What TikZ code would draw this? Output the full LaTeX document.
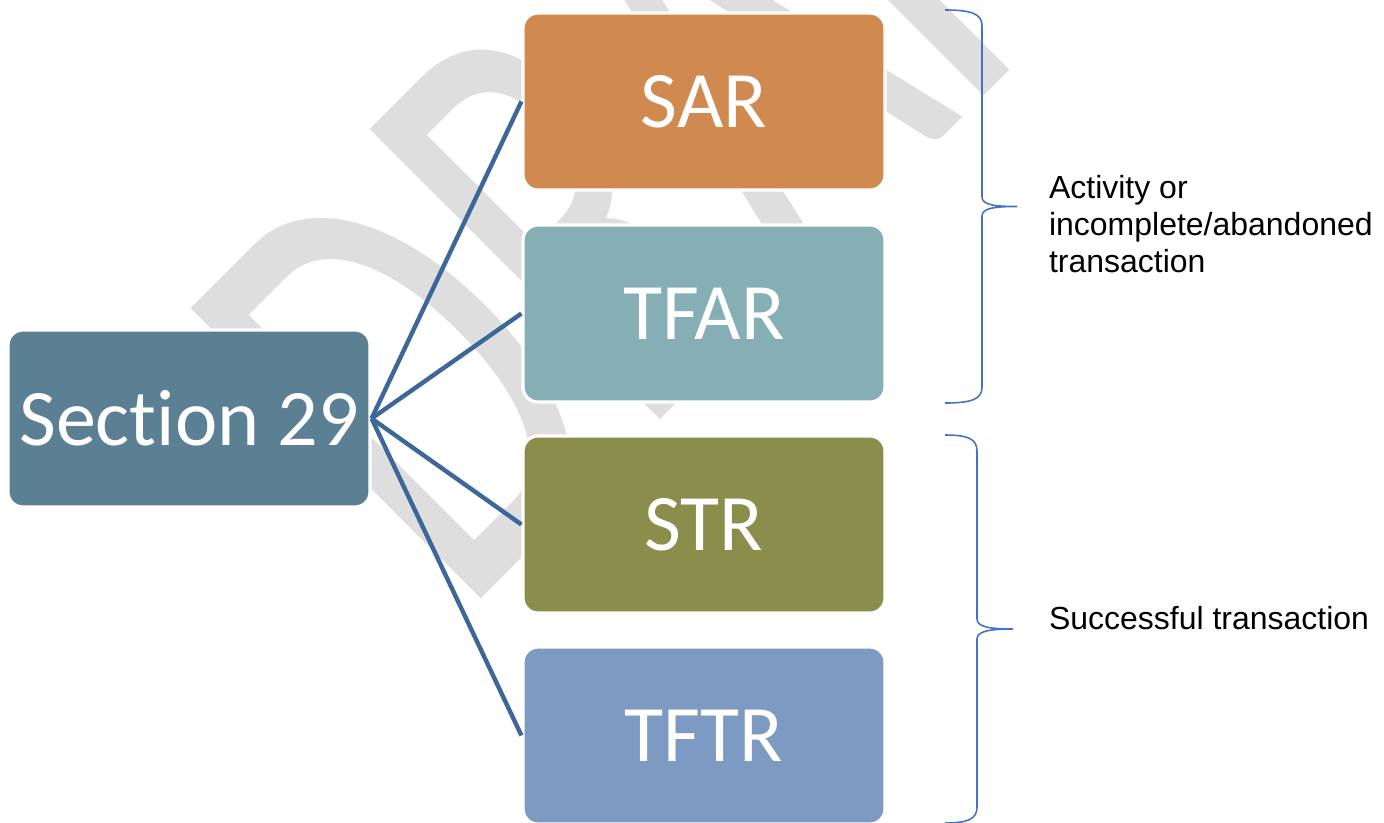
\documentclass[tikz,border=0pt]{standalone}
\usepackage{fontspec}
\setmainfont{Liberation Sans}
\newfontfamily\boxfont[Ligatures=NoCommon]{Carlito}
\tikzstyle{every picture}=[semithick,>=stealth]
\definecolor{secblue}{RGB}{91,127,147}
\definecolor{sarorange}{RGB}{208,137,78}
\definecolor{tfarteal}{RGB}{133,175,181}
\definecolor{strolive}{RGB}{139,142,75}
\definecolor{tftrblue}{RGB}{125,155,194}
\definecolor{linkblue}{RGB}{61,102,153}
\definecolor{braceblue}{RGB}{68,114,196}
\definecolor{wmgray}{RGB}{222,222,222}
\tikzset{
    repbox/.style={draw=white,line width=0.9pt,rounded corners=0.15cm,
        minimum width=3.62cm,minimum height=1.77cm,inner sep=0,
        text=white,font=\boxfont\fontsize{22.8}{24}\selectfont},
    link/.style={linkblue,line width=1.25pt},
    groupbrace/.style={braceblue,line width=0.45pt}
}

\begin{document}
\begin{tikzpicture}
            \useasboundingbox (0,0) rectangle (13.84,8.22);

            % watermark
            \node[wmgray,anchor=base west,inner sep=0,rotate=45,
                font=\boxfont\fontsize{182}{182}\selectfont]
                (draft) at (4.61,2.03) {\scalebox{0.64}[1]{DRAFT}};

            \node[repbox,fill=secblue] (sec) at (1.89,4.035) {Section 29};
            \node[repbox,fill=sarorange] (sar) at (7.04,7.205) {SAR};
            \node[repbox,fill=tfarteal] (tfar) at (7.04,5.085) {TFAR};
            \node[repbox,fill=strolive] (str) at (7.04,2.975) {STR};
            \node[repbox,fill=tftrblue] (tftr) at (7.04,0.865) {TFTR};

            \foreach \rep in {sar,tfar,str,tftr}
                \draw[link] (sec.east) -- (\rep.west);

            % braces
            \draw[groupbrace] (9.45,8.12) .. controls (9.72,8.12) and (9.82,8.08) .. (9.82,7.96)
                -- (9.82,6.25) .. controls (9.82,6.17) and (9.95,6.155) .. (10.17,6.155)
                .. controls (9.95,6.155) and (9.82,6.14) .. (9.82,6.06)
                -- (9.82,4.35) .. controls (9.82,4.23) and (9.72,4.19) .. (9.45,4.19);
            \draw[groupbrace] (9.45,3.87) .. controls (9.68,3.87) and (9.77,3.83) .. (9.77,3.71)
                -- (9.77,2.03) .. controls (9.77,1.95) and (9.90,1.93) .. (10.13,1.93)
                .. controls (9.90,1.93) and (9.77,1.91) .. (9.77,1.83)
                -- (9.77,0.15) .. controls (9.77,0.03) and (9.68,-0.01) .. (9.45,-0.01);

            \node[anchor=west,align=left,inner sep=0,
                font=\fontsize{9.1}{10.5}\selectfont]
                (partial) at (10.48,5.98) {Activity or\\incomplete/abandoned\\transaction};
            \node[anchor=west,inner sep=0,font=\fontsize{9.1}{10.5}\selectfont]
                (done) at (10.48,2.04) {Successful transaction};
        \end{tikzpicture}
\end{document}
